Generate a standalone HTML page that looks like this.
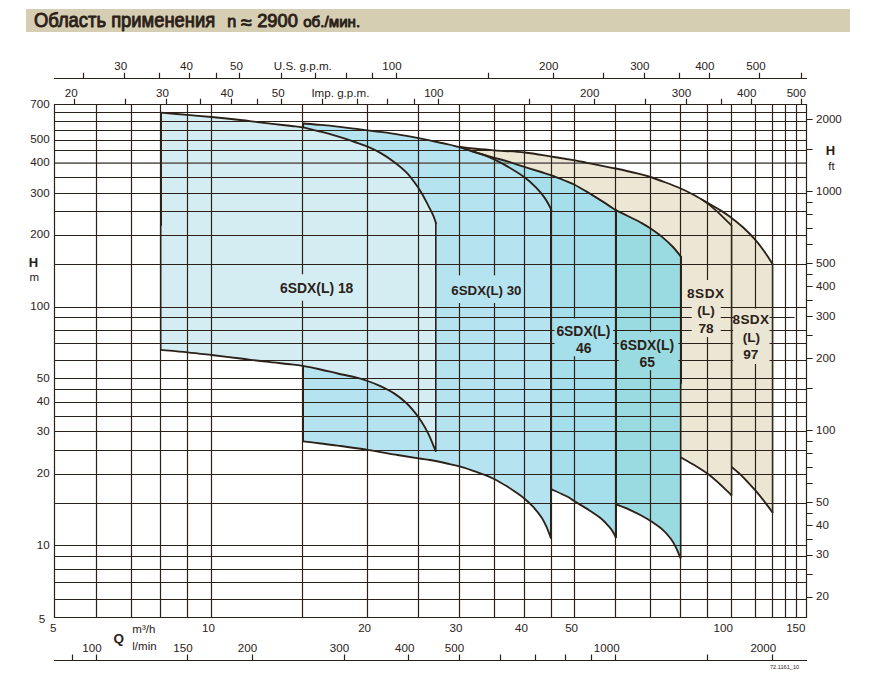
<!DOCTYPE html>
<html lang="ru">
<head>
<meta charset="utf-8">
<title>Область применения</title>
<style>
html,body{margin:0;padding:0;background:#fff;}
body{width:878px;height:680px;position:relative;overflow:hidden;font-family:"Liberation Sans",sans-serif;color:#2b2118;}
.banner{position:absolute;left:26px;top:9px;width:824px;height:23px;background:#d6ceb2;}
svg{position:absolute;left:0;top:0;}
</style>
</head>
<body>
<div class="banner"></div>
<svg width="878" height="680" viewBox="0 0 878 680">
<path d="M459.60 146.90 C461.78 147.17 466.87 147.93 472.70 148.50 C478.53 149.07 485.97 149.63 494.60 150.30 C503.23 150.97 515.00 151.45 524.50 152.50 C534.00 153.55 543.20 155.28 551.60 156.60 C560.00 157.92 568.98 159.37 574.90 160.40 C580.82 161.43 580.32 161.45 587.10 162.80 C593.88 164.15 607.07 166.70 615.60 168.50 C624.13 170.30 632.47 172.18 638.30 173.60 C644.13 175.02 646.03 175.52 650.60 177.00 C655.17 178.48 660.68 180.58 665.70 182.50 C670.72 184.42 676.23 186.55 680.70 188.50 C685.17 190.45 688.02 191.82 692.50 194.20 C696.98 196.58 702.78 200.02 707.60 202.80 C712.42 205.58 717.43 208.40 721.40 210.90 C725.37 213.40 727.85 215.12 731.40 217.80 C734.95 220.48 738.67 223.28 742.70 227.00 C746.73 230.72 751.85 235.82 755.60 240.10 C759.35 244.38 762.37 248.72 765.20 252.70 C768.03 256.68 771.37 262.12 772.60 264.00 L772.50 512.40 C771.28 510.77 768.02 506.22 765.20 502.60 C762.38 498.98 758.52 494.13 755.60 490.70 C752.68 487.27 750.27 484.72 747.70 482.00 C745.13 479.28 742.82 476.85 740.20 474.40 C737.58 471.95 733.37 468.48 732.00 467.30 L720.00 300.00 L470.00 170.00 Z" fill="#ebe6d3"/>
<path d="M459.60 146.90 C461.78 147.17 466.87 147.93 472.70 148.50 C478.53 149.07 485.97 149.63 494.60 150.30 C503.23 150.97 515.00 151.45 524.50 152.50 C534.00 153.55 543.20 155.28 551.60 156.60 C560.00 157.92 568.98 159.37 574.90 160.40 C580.82 161.43 580.32 161.45 587.10 162.80 C593.88 164.15 607.07 166.70 615.60 168.50 C624.13 170.30 632.47 172.18 638.30 173.60 C644.13 175.02 646.03 175.52 650.60 177.00 C655.17 178.48 660.68 180.58 665.70 182.50 C670.72 184.42 676.23 186.55 680.70 188.50 C685.17 190.45 689.12 192.47 692.50 194.20 C695.88 195.93 699.58 198.12 701.00 198.90 L710.00 205.30 L717.60 211.90 L731.40 225.40 L731.40 495.20 C730.77 494.57 729.68 493.40 727.60 491.40 C725.52 489.40 722.23 486.13 718.90 483.20 C715.57 480.27 711.78 476.87 707.60 473.80 C703.42 470.73 698.23 467.52 693.80 464.80 C689.37 462.08 683.13 458.72 681.00 457.50 L670.00 300.00 L470.00 170.00 Z" fill="#ece7d5"/>
<path d="M615.60 210.10 C617.97 211.25 625.43 214.83 629.80 217.00 C634.17 219.17 638.33 221.17 641.80 223.10 C645.27 225.03 647.18 226.27 650.60 228.60 C654.02 230.93 658.65 234.12 662.30 237.10 C665.95 240.08 669.67 243.58 672.50 246.50 C675.33 249.42 677.92 252.88 679.30 254.60 C680.68 256.32 680.55 256.43 680.80 256.80 L680.40 558.00 C679.65 556.23 677.50 550.60 675.90 547.40 C674.30 544.20 673.07 541.80 670.80 538.80 C668.53 535.80 665.67 532.38 662.30 529.40 C658.93 526.42 654.02 523.17 650.60 520.90 C647.18 518.63 645.27 517.65 641.80 515.80 C638.33 513.95 634.08 511.72 629.80 509.80 C625.52 507.88 618.38 505.22 616.10 504.30 Z" fill="#9adbe1"/>
<path d="M459.60 147.00 C461.78 147.72 469.08 150.13 472.70 151.30 C476.32 152.47 477.65 152.92 481.30 154.00 C484.95 155.08 490.33 156.60 494.60 157.80 C498.87 159.00 501.92 159.68 506.90 161.20 C511.88 162.72 518.80 165.10 524.50 166.90 C530.20 168.70 536.58 170.58 541.10 172.00 C545.62 173.42 547.33 173.83 551.60 175.40 C555.87 176.97 562.87 179.85 566.70 181.40 C570.53 182.95 571.20 182.95 574.60 184.70 C578.00 186.45 582.73 189.28 587.10 191.90 C591.47 194.52 596.05 197.37 600.80 200.40 C605.55 203.43 613.13 208.48 615.60 210.10 L615.60 537.30 C615.27 536.57 614.65 534.63 613.60 532.90 C612.55 531.17 611.43 529.33 609.30 526.90 C607.17 524.47 604.50 521.30 600.80 518.30 C597.10 515.30 591.47 511.73 587.10 508.90 C582.73 506.07 578.00 503.40 574.60 501.30 C571.20 499.20 570.53 498.28 566.70 496.30 C562.87 494.32 554.12 490.55 551.60 489.40 L545.00 480.00 L545.00 300.00 L470.00 165.00 Z" fill="#a5dfeb"/>
<path d="M303.30 123.50 C306.18 123.73 314.87 124.38 320.60 124.90 C326.33 125.42 332.00 125.97 337.70 126.60 C343.40 127.23 349.82 128.07 354.80 128.70 C359.78 129.33 363.33 129.87 367.60 130.40 C371.87 130.93 375.42 131.25 380.40 131.90 C385.38 132.55 391.17 133.27 397.50 134.30 C403.83 135.33 412.70 137.00 418.40 138.10 C424.10 139.20 426.92 139.90 431.70 140.90 C436.48 141.90 442.45 143.05 447.10 144.10 C451.75 145.15 455.33 145.97 459.60 147.20 C463.87 148.43 468.52 150.13 472.70 151.50 C476.88 152.87 481.05 154.05 484.70 155.40 C488.35 156.75 490.90 157.82 494.60 159.60 C498.30 161.38 501.92 163.15 506.90 166.10 C511.88 169.05 519.67 173.75 524.50 177.30 C529.33 180.85 532.57 184.02 535.90 187.40 C539.23 190.78 542.22 194.47 544.50 197.60 C546.78 200.73 548.45 204.07 549.60 206.20 C550.75 208.33 551.10 209.70 551.40 210.40 L550.80 537.80 C550.03 535.87 547.82 529.70 546.20 526.20 C544.58 522.70 543.38 520.13 541.10 516.80 C538.82 513.47 535.27 509.20 532.50 506.20 C529.73 503.20 527.35 501.17 524.50 498.80 C521.65 496.43 518.33 494.08 515.40 492.00 C512.47 489.92 510.37 488.43 506.90 486.30 C503.43 484.17 498.30 481.10 494.60 479.20 C490.90 477.30 488.35 476.33 484.70 474.90 C481.05 473.47 476.88 472.02 472.70 470.60 C468.52 469.18 463.87 467.58 459.60 466.40 C455.33 465.22 452.03 464.57 447.10 463.50 C442.17 462.43 434.78 460.85 430.00 460.00 C425.22 459.15 423.82 459.23 418.40 458.40 C412.98 457.57 405.97 456.43 397.50 455.00 C389.03 453.57 377.57 451.37 367.60 449.80 C357.63 448.23 345.53 446.65 337.70 445.60 C329.87 444.55 326.33 444.22 320.60 443.50 C314.87 442.78 306.18 441.67 303.30 441.30 Z" fill="#b5e3f0"/>
<path d="M160.80 112.70 C165.25 113.07 179.07 114.18 187.50 114.90 C195.93 115.62 202.58 116.15 211.40 117.00 C220.22 117.85 232.72 119.15 240.40 120.00 C248.08 120.85 251.80 121.42 257.50 122.10 C263.20 122.78 268.90 123.45 274.60 124.10 C280.30 124.75 287.05 125.47 291.70 126.00 C296.35 126.53 297.68 126.35 302.50 127.30 C307.32 128.25 314.73 130.18 320.60 131.70 C326.47 133.22 332.00 134.68 337.70 136.40 C343.40 138.12 349.82 140.30 354.80 142.00 C359.78 143.70 363.33 144.78 367.60 146.60 C371.87 148.42 375.98 150.33 380.40 152.90 C384.82 155.47 389.82 158.78 394.10 162.00 C398.38 165.22 402.68 168.78 406.10 172.20 C409.52 175.62 412.05 179.08 414.60 182.50 C417.15 185.92 419.12 188.85 421.40 192.70 C423.68 196.55 426.30 201.75 428.30 205.60 C430.30 209.45 432.12 212.85 433.40 215.80 C434.68 218.75 435.57 222.05 436.00 223.30 L435.60 451.00 C435.23 450.10 434.62 448.50 433.40 445.60 C432.18 442.70 430.30 437.60 428.30 433.60 C426.30 429.60 423.68 425.17 421.40 421.60 C419.12 418.03 417.15 415.33 414.60 412.20 C412.05 409.07 409.52 405.93 406.10 402.80 C402.68 399.67 398.38 396.18 394.10 393.40 C389.82 390.62 384.82 388.17 380.40 386.10 C375.98 384.03 371.87 382.48 367.60 381.00 C363.33 379.52 359.78 378.45 354.80 377.20 C349.82 375.95 343.40 374.78 337.70 373.50 C332.00 372.22 326.47 370.77 320.60 369.50 C314.73 368.23 307.32 366.75 302.50 365.90 C297.68 365.05 297.78 365.10 291.70 364.40 C285.62 363.70 274.55 362.68 266.00 361.70 C257.45 360.72 249.50 359.62 240.40 358.50 C231.30 357.38 220.22 356.03 211.40 355.00 C202.58 353.97 195.93 353.15 187.50 352.30 C179.07 351.45 165.25 350.30 160.80 349.90 Z" fill="#d4edf3"/>
<path d="M54.5 163.15H806.5" stroke="#6c6864" stroke-width="1.6" fill="none"/>
<path d="M54.0 104.5H807.0M54.0 112.5H807.0M54.0 121.5H807.0M54.0 130.5H807.0M54.0 140.5H807.0M54.0 150.5H807.0M54.0 177.5H807.0M54.0 193.5H807.0M54.0 211.5H807.0M54.0 235.5H807.0M54.0 264.5H807.0M54.0 307.5H807.0M54.0 317.5H794.6M54.0 330.5H807.0M54.0 343.5H807.0M54.0 360.5H807.0M54.0 378.5H807.0M54.0 389.5H807.0M54.0 402.5H807.0M54.0 416.5H807.0M54.0 431.5H807.0M54.0 450.5H807.0M54.0 474.5H807.0M54.0 503.5H807.0M54.0 545.5H807.0M54.0 556.5H807.0M54.0 569.5H807.0M54.0 582.5H807.0M54.0 599.5H807.0M54.0 617.5H807.0M54.5 104.0V618.0M96.5 104.0V618.0M131.5 104.0V618.0M160.5 104.0V618.0M187.5 104.0V618.0M211.5 104.0V618.0M302.5 104.0V618.0M367.5 104.0V618.0M418.5 104.0V618.0M459.5 104.0V618.0M494.5 104.0V618.0M524.5 104.0V618.0M551.5 104.0V618.0M574.5 104.0V618.0M615.5 104.0V618.0M650.5 104.0V618.0M680.5 104.0V618.0M707.5 104.0V618.0M731.5 104.0V618.0M755.5 104.0V618.0M772.5 104.0V618.0M785.5 104.0V618.0M796.5 104.0V618.0M806.5 104.0V618.0" stroke="#2b2118" stroke-width="1.2" fill="none"/>
<rect x="299.0" y="274.3" width="7.0" height="26.5" fill="#d4edf3"/>
<rect x="457.0" y="275.3" width="40.5" height="27.7" fill="#b5e3f0"/>
<rect x="554.6" y="318.5" width="58.4" height="37.7" fill="#a5dfeb"/>
<rect x="618.8" y="332.2" width="59.5" height="38.0" fill="#9adbe1"/>
<rect x="691.8" y="280.0" width="28.9" height="57.0" fill="#ece7d5"/>
<rect x="733.2" y="308.6" width="36.3" height="55.4" fill="#ebe6d3"/>
<path d="M459.60 146.90 C461.78 147.17 466.87 147.93 472.70 148.50 C478.53 149.07 485.97 149.63 494.60 150.30 C503.23 150.97 515.00 151.45 524.50 152.50 C534.00 153.55 543.20 155.28 551.60 156.60 C560.00 157.92 568.98 159.37 574.90 160.40 C580.82 161.43 580.32 161.45 587.10 162.80 C593.88 164.15 607.07 166.70 615.60 168.50 C624.13 170.30 632.47 172.18 638.30 173.60 C644.13 175.02 646.03 175.52 650.60 177.00 C655.17 178.48 660.68 180.58 665.70 182.50 C670.72 184.42 676.23 186.55 680.70 188.50 C685.17 190.45 688.02 191.82 692.50 194.20 C696.98 196.58 702.78 200.02 707.60 202.80 C712.42 205.58 717.43 208.40 721.40 210.90 C725.37 213.40 727.85 215.12 731.40 217.80 C734.95 220.48 738.67 223.28 742.70 227.00 C746.73 230.72 751.85 235.82 755.60 240.10 C759.35 244.38 762.37 248.72 765.20 252.70 C768.03 256.68 771.37 262.12 772.60 264.00" stroke="#2b2118" stroke-width="1.85" fill="none" stroke-linejoin="round" stroke-linecap="round"/>
<path d="M701.0 198.9 L710.0 205.3 L717.6 211.9 L731.4 225.4" stroke="#2b2118" stroke-width="1.7" fill="none" stroke-linejoin="round" stroke-linecap="round"/>
<path d="M459.60 147.00 C461.78 147.72 469.08 150.13 472.70 151.30 C476.32 152.47 477.65 152.92 481.30 154.00 C484.95 155.08 490.33 156.60 494.60 157.80 C498.87 159.00 501.92 159.68 506.90 161.20 C511.88 162.72 518.80 165.10 524.50 166.90 C530.20 168.70 536.58 170.58 541.10 172.00 C545.62 173.42 547.33 173.83 551.60 175.40 C555.87 176.97 562.87 179.85 566.70 181.40 C570.53 182.95 571.20 182.95 574.60 184.70 C578.00 186.45 582.73 189.28 587.10 191.90 C591.47 194.52 596.05 197.37 600.80 200.40 C605.55 203.43 613.13 208.48 615.60 210.10" stroke="#2b2118" stroke-width="1.85" fill="none" stroke-linejoin="round" stroke-linecap="round"/>
<path d="M615.60 210.10 C617.97 211.25 625.43 214.83 629.80 217.00 C634.17 219.17 638.33 221.17 641.80 223.10 C645.27 225.03 647.18 226.27 650.60 228.60 C654.02 230.93 658.65 234.12 662.30 237.10 C665.95 240.08 669.67 243.58 672.50 246.50 C675.33 249.42 677.92 252.88 679.30 254.60 C680.68 256.32 680.55 256.43 680.80 256.80" stroke="#2b2118" stroke-width="1.85" fill="none" stroke-linejoin="round" stroke-linecap="round"/>
<path d="M303.30 123.50 C306.18 123.73 314.87 124.38 320.60 124.90 C326.33 125.42 332.00 125.97 337.70 126.60 C343.40 127.23 349.82 128.07 354.80 128.70 C359.78 129.33 363.33 129.87 367.60 130.40 C371.87 130.93 375.42 131.25 380.40 131.90 C385.38 132.55 391.17 133.27 397.50 134.30 C403.83 135.33 412.70 137.00 418.40 138.10 C424.10 139.20 426.92 139.90 431.70 140.90 C436.48 141.90 442.45 143.05 447.10 144.10 C451.75 145.15 455.33 145.97 459.60 147.20 C463.87 148.43 468.52 150.13 472.70 151.50 C476.88 152.87 481.05 154.05 484.70 155.40 C488.35 156.75 490.90 157.82 494.60 159.60 C498.30 161.38 501.92 163.15 506.90 166.10 C511.88 169.05 519.67 173.75 524.50 177.30 C529.33 180.85 532.57 184.02 535.90 187.40 C539.23 190.78 542.22 194.47 544.50 197.60 C546.78 200.73 548.45 204.07 549.60 206.20 C550.75 208.33 551.10 209.70 551.40 210.40" stroke="#2b2118" stroke-width="1.85" fill="none" stroke-linejoin="round" stroke-linecap="round"/>
<path d="M160.80 112.70 C165.25 113.07 179.07 114.18 187.50 114.90 C195.93 115.62 202.58 116.15 211.40 117.00 C220.22 117.85 232.72 119.15 240.40 120.00 C248.08 120.85 251.80 121.42 257.50 122.10 C263.20 122.78 268.90 123.45 274.60 124.10 C280.30 124.75 287.05 125.47 291.70 126.00 C296.35 126.53 297.68 126.35 302.50 127.30 C307.32 128.25 314.73 130.18 320.60 131.70 C326.47 133.22 332.00 134.68 337.70 136.40 C343.40 138.12 349.82 140.30 354.80 142.00 C359.78 143.70 363.33 144.78 367.60 146.60 C371.87 148.42 375.98 150.33 380.40 152.90 C384.82 155.47 389.82 158.78 394.10 162.00 C398.38 165.22 402.68 168.78 406.10 172.20 C409.52 175.62 412.05 179.08 414.60 182.50 C417.15 185.92 419.12 188.85 421.40 192.70 C423.68 196.55 426.30 201.75 428.30 205.60 C430.30 209.45 432.12 212.85 433.40 215.80 C434.68 218.75 435.57 222.05 436.00 223.30" stroke="#2b2118" stroke-width="1.85" fill="none" stroke-linejoin="round" stroke-linecap="round"/>
<path d="M160.80 349.90 C165.25 350.30 179.07 351.45 187.50 352.30 C195.93 353.15 202.58 353.97 211.40 355.00 C220.22 356.03 231.30 357.38 240.40 358.50 C249.50 359.62 257.45 360.72 266.00 361.70 C274.55 362.68 285.62 363.70 291.70 364.40 C297.78 365.10 297.68 365.05 302.50 365.90 C307.32 366.75 314.73 368.23 320.60 369.50 C326.47 370.77 332.00 372.22 337.70 373.50 C343.40 374.78 349.82 375.95 354.80 377.20 C359.78 378.45 363.33 379.52 367.60 381.00 C371.87 382.48 375.98 384.03 380.40 386.10 C384.82 388.17 389.82 390.62 394.10 393.40 C398.38 396.18 402.68 399.67 406.10 402.80 C409.52 405.93 412.05 409.07 414.60 412.20 C417.15 415.33 419.12 418.03 421.40 421.60 C423.68 425.17 426.30 429.60 428.30 433.60 C430.30 437.60 432.18 442.70 433.40 445.60 C434.62 448.50 435.23 450.10 435.60 451.00" stroke="#2b2118" stroke-width="1.85" fill="none" stroke-linejoin="round" stroke-linecap="round"/>
<path d="M303.30 441.30 C306.18 441.67 314.87 442.78 320.60 443.50 C326.33 444.22 329.87 444.55 337.70 445.60 C345.53 446.65 357.63 448.23 367.60 449.80 C377.57 451.37 389.03 453.57 397.50 455.00 C405.97 456.43 412.98 457.57 418.40 458.40 C423.82 459.23 425.22 459.15 430.00 460.00 C434.78 460.85 442.17 462.43 447.10 463.50 C452.03 464.57 455.33 465.22 459.60 466.40 C463.87 467.58 468.52 469.18 472.70 470.60 C476.88 472.02 481.05 473.47 484.70 474.90 C488.35 476.33 490.90 477.30 494.60 479.20 C498.30 481.10 503.43 484.17 506.90 486.30 C510.37 488.43 512.47 489.92 515.40 492.00 C518.33 494.08 521.65 496.43 524.50 498.80 C527.35 501.17 529.73 503.20 532.50 506.20 C535.27 509.20 538.82 513.47 541.10 516.80 C543.38 520.13 544.58 522.70 546.20 526.20 C547.82 529.70 550.03 535.87 550.80 537.80" stroke="#2b2118" stroke-width="1.85" fill="none" stroke-linejoin="round" stroke-linecap="round"/>
<path d="M551.60 489.40 C554.12 490.55 562.87 494.32 566.70 496.30 C570.53 498.28 571.20 499.20 574.60 501.30 C578.00 503.40 582.73 506.07 587.10 508.90 C591.47 511.73 597.10 515.30 600.80 518.30 C604.50 521.30 607.17 524.47 609.30 526.90 C611.43 529.33 612.55 531.17 613.60 532.90 C614.65 534.63 615.27 536.57 615.60 537.30" stroke="#2b2118" stroke-width="1.85" fill="none" stroke-linejoin="round" stroke-linecap="round"/>
<path d="M616.10 504.30 C618.38 505.22 625.52 507.88 629.80 509.80 C634.08 511.72 638.33 513.95 641.80 515.80 C645.27 517.65 647.18 518.63 650.60 520.90 C654.02 523.17 658.93 526.42 662.30 529.40 C665.67 532.38 668.53 535.80 670.80 538.80 C673.07 541.80 674.30 544.20 675.90 547.40 C677.50 550.60 679.65 556.23 680.40 558.00" stroke="#2b2118" stroke-width="1.85" fill="none" stroke-linejoin="round" stroke-linecap="round"/>
<path d="M681.00 457.50 C683.13 458.72 689.37 462.08 693.80 464.80 C698.23 467.52 703.42 470.73 707.60 473.80 C711.78 476.87 715.57 480.27 718.90 483.20 C722.23 486.13 725.52 489.40 727.60 491.40 C729.68 493.40 730.77 494.57 731.40 495.20" stroke="#2b2118" stroke-width="1.85" fill="none" stroke-linejoin="round" stroke-linecap="round"/>
<path d="M732.00 467.30 C733.37 468.48 737.58 471.95 740.20 474.40 C742.82 476.85 745.13 479.28 747.70 482.00 C750.27 484.72 752.68 487.27 755.60 490.70 C758.52 494.13 762.38 498.98 765.20 502.60 C768.02 506.22 771.28 510.77 772.50 512.40" stroke="#2b2118" stroke-width="1.85" fill="none" stroke-linejoin="round" stroke-linecap="round"/>
<path d="M161.0 113V225" stroke="#2b2118" stroke-width="2.0" fill="none" stroke-linejoin="round" stroke-linecap="round"/>
<path d="M160.7 225V350" stroke="#2b2118" stroke-width="1.5" fill="none" stroke-linejoin="round" stroke-linecap="round"/>
<path d="M303.3 123.5V127.5" stroke="#2b2118" stroke-width="1.6" fill="none" stroke-linejoin="round" stroke-linecap="round"/>
<path d="M303.0 366V441.3" stroke="#2b2118" stroke-width="2.0" fill="none" stroke-linejoin="round" stroke-linecap="round"/>
<path d="M435.8 223.3V451" stroke="#2b2118" stroke-width="1.6" fill="none" stroke-linejoin="round" stroke-linecap="round"/>
<path d="M551.0 210.4V537.8" stroke="#2b2118" stroke-width="2.0" fill="none" stroke-linejoin="round" stroke-linecap="round"/>
<path d="M616.0 210.1V537.3" stroke="#2b2118" stroke-width="2.0" fill="none" stroke-linejoin="round" stroke-linecap="round"/>
<path d="M681.0 256.8V383" stroke="#2b2118" stroke-width="2.0" fill="none" stroke-linejoin="round" stroke-linecap="round"/>
<path d="M680.7 383V558" stroke="#2b2118" stroke-width="1.5" fill="none" stroke-linejoin="round" stroke-linecap="round"/>
<path d="M731.6 225.4V495.2" stroke="#33291f" stroke-width="1.5" fill="none" stroke-linejoin="round" stroke-linecap="round"/>
<path d="M772.6 264V512.4" stroke="#33291f" stroke-width="1.5" fill="none" stroke-linejoin="round" stroke-linecap="round"/>
<path d="M54.0 78.5H807.0M83.5 72.8V78.5M124.5 72.8V78.5M159.5 72.8V78.5M189.5 72.8V78.5M216.5 72.8V78.5M239.5 72.8V78.5M281.5 72.8V78.5M315.5 72.8V78.5M346.5 72.8V78.5M372.5 72.8V78.5M396.5 72.8V78.5M488.5 72.8V78.5M553.5 72.8V78.5M603.5 72.8V78.5M644.5 72.8V78.5M679.5 72.8V78.5M709.5 72.8V78.5M759.5 72.8V78.5M801.5 72.8V78.5M74.5 98.8V104.5M125.5 98.8V104.5M166.5 98.8V104.5M200.5 98.8V104.5M231.5 98.8V104.5M257.5 98.8V104.5M281.5 98.8V104.5M322.5 98.8V104.5M357.5 98.8V104.5M387.5 98.8V104.5M414.5 98.8V104.5M438.5 98.8V104.5M529.5 98.8V104.5M594.5 98.8V104.5M645.5 98.8V104.5M686.5 98.8V104.5M721.5 98.8V104.5M751.5 98.8V104.5M801.5 98.8V104.5M54.0 660.5H807.0M72.5 654.4V660.5M96.5 654.4V660.5M187.5 654.4V660.5M252.5 654.4V660.5M344.5 654.4V660.5M408.5 654.4V660.5M459.5 654.4V660.5M500.5 654.4V660.5M535.5 654.4V660.5M565.5 654.4V660.5M591.5 654.4V660.5M615.5 654.4V660.5M707.5 654.4V660.5M772.5 654.4V660.5M806.5 119.5H812.6M806.5 149.5H812.6M806.5 191.5H812.6M806.5 202.5H812.6M806.5 214.5H812.6M806.5 228.5H812.6M806.5 244.5H812.6M806.5 263.5H812.6M806.5 274.5H812.6M806.5 286.5H812.6M806.5 300.5H812.6M806.5 316.5H812.6M806.5 335.5H812.6M806.5 358.5H812.6M806.5 388.5H812.6M806.5 430.5H812.6M806.5 441.5H812.6M806.5 453.5H812.6M806.5 467.5H812.6M806.5 483.5H812.6M806.5 502.5H812.6M806.5 513.5H812.6M806.5 525.5H812.6M806.5 539.5H812.6M806.5 555.5H812.6M806.5 574.5H812.6M806.5 597.5H812.6" stroke="#2b2118" stroke-width="1.2" fill="none"/>
<g font-family="Liberation Sans, sans-serif" fill="#2b2118">
<text x="120.8" y="70.2" text-anchor="middle" font-size="11.6" font-weight="normal">30</text>
<text x="186.5" y="70.2" text-anchor="middle" font-size="11.6" font-weight="normal">40</text>
<text x="236.5" y="70.2" text-anchor="middle" font-size="11.6" font-weight="normal">50</text>
<text x="392.0" y="70.2" text-anchor="middle" font-size="11.6" font-weight="normal">100</text>
<text x="548.7" y="70.2" text-anchor="middle" font-size="11.6" font-weight="normal">200</text>
<text x="639.8" y="70.2" text-anchor="middle" font-size="11.6" font-weight="normal">300</text>
<text x="704.8" y="70.2" text-anchor="middle" font-size="11.6" font-weight="normal">400</text>
<text x="756.0" y="70.2" text-anchor="middle" font-size="11.6" font-weight="normal">500</text>
<text x="273.8" y="70.2" text-anchor="start" font-size="11.6" font-weight="normal">U.S. g.p.m.</text>
<text x="71.3" y="97.2" text-anchor="middle" font-size="11.6" font-weight="normal">20</text>
<text x="162.4" y="97.2" text-anchor="middle" font-size="11.6" font-weight="normal">30</text>
<text x="227.0" y="97.2" text-anchor="middle" font-size="11.6" font-weight="normal">40</text>
<text x="278.3" y="97.2" text-anchor="middle" font-size="11.6" font-weight="normal">50</text>
<text x="433.8" y="97.2" text-anchor="middle" font-size="11.6" font-weight="normal">100</text>
<text x="589.7" y="97.2" text-anchor="middle" font-size="11.6" font-weight="normal">200</text>
<text x="681.5" y="97.2" text-anchor="middle" font-size="11.6" font-weight="normal">300</text>
<text x="746.7" y="97.2" text-anchor="middle" font-size="11.6" font-weight="normal">400</text>
<text x="796.3" y="97.2" text-anchor="middle" font-size="11.6" font-weight="normal">500</text>
<text x="311.4" y="97.2" text-anchor="start" font-size="11.6" font-weight="normal">Imp. g.p.m.</text>
<text x="49.7" y="108.4" text-anchor="end" font-size="11.6" font-weight="normal">700</text>
<text x="49.7" y="143.1" text-anchor="end" font-size="11.6" font-weight="normal">500</text>
<text x="49.7" y="166.0" text-anchor="end" font-size="11.6" font-weight="normal">400</text>
<text x="49.7" y="196.5" text-anchor="end" font-size="11.6" font-weight="normal">300</text>
<text x="49.7" y="238.0" text-anchor="end" font-size="11.6" font-weight="normal">200</text>
<text x="49.7" y="310.1" text-anchor="end" font-size="11.6" font-weight="normal">100</text>
<text x="49.7" y="382.3" text-anchor="end" font-size="11.6" font-weight="normal">50</text>
<text x="49.7" y="405.1" text-anchor="end" font-size="11.6" font-weight="normal">40</text>
<text x="49.7" y="434.5" text-anchor="end" font-size="11.6" font-weight="normal">30</text>
<text x="49.7" y="476.7" text-anchor="end" font-size="11.6" font-weight="normal">20</text>
<text x="49.7" y="548.7" text-anchor="end" font-size="11.6" font-weight="normal">10</text>
<text x="45.2" y="622.7" text-anchor="end" font-size="11.6" font-weight="normal">5</text>
<text x="33.4" y="266.5" text-anchor="middle" font-size="13" font-weight="bold">H</text>
<text x="34.2" y="280.6" text-anchor="middle" font-size="11.5" font-weight="normal">m</text>
<text x="816.0" y="123.4" text-anchor="start" font-size="11.6" font-weight="normal">2000</text>
<text x="816.0" y="195.1" text-anchor="start" font-size="11.6" font-weight="normal">1000</text>
<text x="816.0" y="266.8" text-anchor="start" font-size="11.6" font-weight="normal">500</text>
<text x="816.0" y="290.1" text-anchor="start" font-size="11.6" font-weight="normal">400</text>
<text x="816.0" y="320.1" text-anchor="start" font-size="11.6" font-weight="normal">300</text>
<text x="816.0" y="362.3" text-anchor="start" font-size="11.6" font-weight="normal">200</text>
<text x="816.0" y="434.1" text-anchor="start" font-size="11.6" font-weight="normal">100</text>
<text x="816.0" y="505.7" text-anchor="start" font-size="11.6" font-weight="normal">50</text>
<text x="816.0" y="528.9" text-anchor="start" font-size="11.6" font-weight="normal">40</text>
<text x="816.0" y="558.1" text-anchor="start" font-size="11.6" font-weight="normal">30</text>
<text x="816.0" y="600.4" text-anchor="start" font-size="11.6" font-weight="normal">20</text>
<text x="830.5" y="154.5" text-anchor="middle" font-size="13" font-weight="bold">H</text>
<text x="831.5" y="169.5" text-anchor="middle" font-size="11.5" font-weight="normal">ft</text>
<text x="53.3" y="632.1" text-anchor="middle" font-size="11.6" font-weight="normal">5</text>
<text x="208.5" y="632.1" text-anchor="middle" font-size="11.6" font-weight="normal">10</text>
<text x="364.6" y="632.1" text-anchor="middle" font-size="11.6" font-weight="normal">20</text>
<text x="456.0" y="632.1" text-anchor="middle" font-size="11.6" font-weight="normal">30</text>
<text x="521.5" y="632.1" text-anchor="middle" font-size="11.6" font-weight="normal">40</text>
<text x="571.6" y="632.1" text-anchor="middle" font-size="11.6" font-weight="normal">50</text>
<text x="723.2" y="632.1" text-anchor="middle" font-size="11.6" font-weight="normal">100</text>
<text x="795.8" y="632.1" text-anchor="middle" font-size="11.6" font-weight="normal">150</text>
<text x="92.0" y="652.0" text-anchor="middle" font-size="11.6" font-weight="normal">100</text>
<text x="183.0" y="652.0" text-anchor="middle" font-size="11.6" font-weight="normal">150</text>
<text x="247.5" y="652.0" text-anchor="middle" font-size="11.6" font-weight="normal">200</text>
<text x="339.5" y="652.0" text-anchor="middle" font-size="11.6" font-weight="normal">300</text>
<text x="404.7" y="652.0" text-anchor="middle" font-size="11.6" font-weight="normal">400</text>
<text x="454.5" y="652.0" text-anchor="middle" font-size="11.6" font-weight="normal">500</text>
<text x="606.7" y="652.0" text-anchor="middle" font-size="11.6" font-weight="normal">1000</text>
<text x="763.3" y="652.0" text-anchor="middle" font-size="11.6" font-weight="normal">2000</text>
<text x="132.3" y="633.0" text-anchor="start" font-size="11.5" font-weight="normal">m&#179;/h</text>
<text x="132.3" y="650.0" text-anchor="start" font-size="11.5" font-weight="normal">l/min</text>
<text x="118.7" y="643.4" text-anchor="middle" font-size="13.5" font-weight="bold">Q</text>
<text x="770.0" y="668.8" text-anchor="start" font-size="5.6" font-weight="normal">72.1161_10</text>
<text x="33.9" y="27.0" text-anchor="start" font-size="19.4" font-weight="normal" stroke="#2b2118" stroke-width="0.9" stroke-linejoin="round" textLength="181.3" lengthAdjust="spacingAndGlyphs">&#1054;&#1073;&#1083;&#1072;&#1089;&#1090;&#1100; &#1087;&#1088;&#1080;&#1084;&#1077;&#1085;&#1077;&#1085;&#1080;&#1103;</text>
<text x="227.3" y="26.8" text-anchor="start" font-size="16.2" font-weight="normal" stroke="#2b2118" stroke-width="0.9" stroke-linejoin="round">n</text>
<text x="241.0" y="29.0" text-anchor="start" font-size="19.5" font-weight="normal" stroke="#2b2118" stroke-width="0.9" stroke-linejoin="round">&#8776;</text>
<text x="257.2" y="26.8" text-anchor="start" font-size="17.7" font-weight="normal" stroke="#2b2118" stroke-width="0.9" stroke-linejoin="round" textLength="40.6" lengthAdjust="spacingAndGlyphs">2900</text>
<text x="303.2" y="26.8" text-anchor="start" font-size="15" font-weight="normal" stroke="#2b2118" stroke-width="0.9" stroke-linejoin="round" textLength="57" lengthAdjust="spacingAndGlyphs">&#1086;&#1073;./&#1084;&#1080;&#1085;.</text>
<text x="316.7" y="293.2" text-anchor="middle" font-size="13.9" font-weight="bold">6SDX(L) 18</text>
<text x="486.4" y="295.1" text-anchor="middle" font-size="13.3" font-weight="bold">6SDX(L) 30</text>
<text x="583.4" y="336.0" text-anchor="middle" font-size="13.9" font-weight="bold">6SDX(L)</text>
<text x="583.7" y="352.9" text-anchor="middle" font-size="13.9" font-weight="bold">46</text>
<text x="647.1" y="350.4" text-anchor="middle" font-size="13.9" font-weight="bold">6SDX(L)</text>
<text x="647.3" y="366.6" text-anchor="middle" font-size="13.9" font-weight="bold">65</text>
<text x="705.8" y="298.0" text-anchor="middle" font-size="13.6" font-weight="bold" letter-spacing="0.5">8SDX</text>
<text x="706.0" y="315.3" text-anchor="middle" font-size="13.6" font-weight="bold">(L)</text>
<text x="706.1" y="332.5" text-anchor="middle" font-size="13.6" font-weight="bold">78</text>
<text x="751.0" y="324.2" text-anchor="middle" font-size="13.6" font-weight="bold" letter-spacing="0.4">8SDX</text>
<text x="751.4" y="341.7" text-anchor="middle" font-size="13.6" font-weight="bold">(L)</text>
<text x="750.8" y="358.6" text-anchor="middle" font-size="13.6" font-weight="bold">97</text>
</g>
</svg>
</body>
</html>
